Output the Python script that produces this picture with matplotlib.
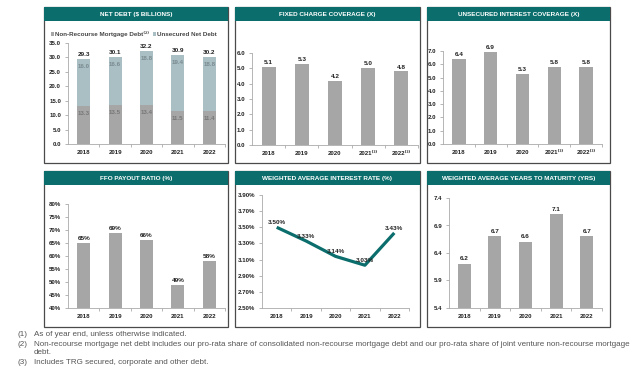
import matplotlib
matplotlib.use("Agg")
import matplotlib.pyplot as plt
from matplotlib.patches import Rectangle
from matplotlib.ticker import FixedLocator

plt.rcParams['font.family'] = ['Liberation Sans', 'DejaVu Sans']

years = ["2018", "2019", "2020", "2021", "2022"]
years_fn = ["2018", "2019", "2020", "2021⁽³⁾", "2022⁽³⁾"]

nonrecourse = [13.3, 13.5, 13.4, 11.5, 11.4]
unsecured = [16.0, 16.6, 18.8, 19.4, 18.8]
net_total = [29.3, 30.1, 32.2, 30.9, 30.2]
fixed_charge = [5.1, 5.3, 4.2, 5.0, 4.8]
unsecured_cov = [6.4, 6.9, 5.3, 5.8, 5.8]
ffo_payout = [65, 69, 66, 49, 58]
interest_rate = [3.50, 3.33, 3.14, 3.03, 3.43]
years_maturity = [6.2, 6.7, 6.6, 7.1, 6.7]

titles = ["NET DEBT ($ BILLIONS)", "FIXED CHARGE COVERAGE (X)", "UNSECURED INTEREST COVERAGE (X)",
          "FFO PAYOUT RATIO (%)", "WEIGHTED AVERAGE INTEREST RATE (%)", "WEIGHTED AVERAGE YEARS TO MATURITY (YRS)"]
footnotes = [("(1)", "As of year end, unless otherwise indicated."),
             ("(2)", "Non-recourse mortgage net debt includes our pro-rata share of consolidated non-recourse mortgage debt and our pro-rata share of joint venture non-recourse mortgage"),
             ("", "debt."),
             ("(3)", "Includes TRG secured, corporate and other debt.")]

TEAL = "#0B6E6C"
GRAY = "#A6A6A6"
BLUE = "#A9BFC4"
W, H = 640, 380

fig = plt.figure(figsize=(6.4, 3.8), dpi=100)


def rect(x0, y0, x1, y1):
    return [x0 / W, 1 - y1 / H, (x1 - x0) / W, (y1 - y0) / H]


def panel(x0, y0, x1, y1, title):
    fig.add_artist(Rectangle((x0 / W, 1 - y1 / H), (x1 - x0) / W, (y1 - y0) / H,
                             transform=fig.transFigure, fill=False, ec="#4a4a4a", lw=0.9))
    fig.add_artist(Rectangle((x0 / W, 1 - (y0 + 14) / H), (x1 - x0) / W, 14 / H,
                             transform=fig.transFigure, fc=TEAL, ec="none"))
    fig.text((x0 + x1) / 2 / W, 1 - (y0 + 7.5) / H, title, color="white", fontsize=4.6,
             fontweight="bold", ha="center", va="center")


def style(ax, labels, ylim, ticks, fmt):
    ax.set_xlim(-0.5, 4.5)
    ax.set_ylim(*ylim)
    ax.set_yticks(ticks)
    ax.set_yticklabels([fmt(t) for t in ticks])
    ax.set_xticks(range(5))
    ax.set_xticklabels(labels)
    ax.xaxis.set_minor_locator(FixedLocator([0.5, 1.5, 2.5, 3.5, 4.5]))
    ax.tick_params(axis="x", which="major", length=0, pad=4)
    ax.tick_params(axis="x", which="minor", length=2, color="#999999", width=0.5)
    ax.tick_params(axis="y", length=2, color="#999999", width=0.5, pad=3)
    ax.tick_params(labelsize=4.4)
    for lab in ax.get_xticklabels() + ax.get_yticklabels():
        lab.set_fontweight("bold")
        lab.set_color("#222222")
    for s in ["top", "right"]:
        ax.spines[s].set_visible(False)
    for s in ["left", "bottom"]:
        ax.spines[s].set_color("#aaaaaa")
        ax.spines[s].set_linewidth(0.6)
    ax.patch.set_alpha(0)


def labels_above(ax, vals, fmt, off):
    for i, v in enumerate(vals):
        ax.text(i, v + off, fmt(v), ha="center", va="bottom", fontsize=4.6,
                fontweight="bold", color="#222222")


# Panel boxes
panel(44, 7, 228, 163, titles[0])
panel(235, 7, 420, 163, titles[1])
panel(427, 7, 610, 163, titles[2])
panel(44, 171, 228, 327, titles[3])
panel(235, 171, 420, 327, titles[4])
panel(427, 171, 610, 327, titles[5])

x = list(range(5))
bw = 0.42

# 1. Net debt stacked
ax1 = fig.add_axes(rect(68, 43, 225, 144))
ax1.bar(x, nonrecourse, width=bw, color=GRAY, label="Non-Recourse Mortgage Debt⁽²⁾")
ax1.bar(x, unsecured, width=bw, bottom=nonrecourse, color=BLUE, label="Unsecured Net Debt")
style(ax1, years, (0, 35), [0, 5, 10, 15, 20, 25, 30, 35], lambda t: f"{t:.1f}")
for i in x:
    ax1.text(i, nonrecourse[i] - 2.6, f"{nonrecourse[i]:.1f}", ha="center", va="center",
             fontsize=4.4, fontweight="bold", color="#777777")
    ax1.text(i, net_total[i] - 2.6, f"{unsecured[i]:.1f}", ha="center", va="center",
             fontsize=4.4, fontweight="bold", color="#7a8a8e")
labels_above(ax1, net_total, lambda v: f"{v:.1f}", 0.8)
leg = ax1.legend(loc="lower center", bbox_to_anchor=(0.42, 1.03), ncol=2, frameon=False,
                 fontsize=4.5, handlelength=0.5, handleheight=0.5, handletextpad=0.2,
                 columnspacing=0.6, borderaxespad=0)
for t in leg.get_texts():
    t.set_fontweight("bold")
    t.set_color("#444444")

# 2. Fixed charge coverage
ax2 = fig.add_axes(rect(252, 53, 418, 145))
ax2.bar(x, fixed_charge, width=bw, color=GRAY)
style(ax2, years_fn, (0, 6), [0, 1, 2, 3, 4, 5, 6], lambda t: f"{t:.1f}")
labels_above(ax2, fixed_charge, lambda v: f"{v:.1f}", 0.12)

# 3. Unsecured interest coverage
ax3 = fig.add_axes(rect(443, 51, 602, 144))
ax3.bar(x, unsecured_cov, width=bw, color=GRAY)
style(ax3, years_fn, (0, 7), [0, 1, 2, 3, 4, 5, 6, 7], lambda t: f"{t:.1f}")
labels_above(ax3, unsecured_cov, lambda v: f"{v:.1f}", 0.14)

# 4. FFO payout ratio
ax4 = fig.add_axes(rect(68, 204, 225, 308))
ax4.bar(x, ffo_payout, width=bw, color=GRAY)
style(ax4, years, (40, 80), list(range(40, 81, 5)), lambda t: f"{t:.0f}%")
labels_above(ax4, ffo_payout, lambda v: f"{v:.0f}%", 0.8)

# 5. Weighted average interest rate
ax5 = fig.add_axes(rect(262, 195, 409, 308))
ax5.plot(x, interest_rate, color=TEAL, lw=2.3, solid_capstyle="butt")
style(ax5, years, (2.5, 3.9), [2.5, 2.7, 2.9, 3.1, 3.3, 3.5, 3.7, 3.9], lambda t: f"{t:.2f}%")
for i, v in enumerate(interest_rate):
    ax5.text(i, v + 0.03, f"{v:.2f}%", ha="center", va="bottom", fontsize=4.6,
             fontweight="bold", color="#222222")

# 6. Weighted average years to maturity
ax6 = fig.add_axes(rect(449, 198, 602, 308))
ax6.bar(x, years_maturity, width=bw, color=GRAY)
style(ax6, years, (5.4, 7.4), [5.4, 5.9, 6.4, 6.9, 7.4], lambda t: f"{t:.1f}")
labels_above(ax6, years_maturity, lambda v: f"{v:.1f}", 0.05)

# Footnotes
fy = [334, 344, 353, 363]
for (num, txt), y in zip(footnotes, fy):
    if num:
        fig.text(18 / W, 1 - y / H, num, fontsize=5.75, color="#555555", va="center")
    fig.text(34 / W, 1 - y / H, txt, fontsize=5.75, color="#555555", va="center")

fig.savefig("out.png", dpi=100)
